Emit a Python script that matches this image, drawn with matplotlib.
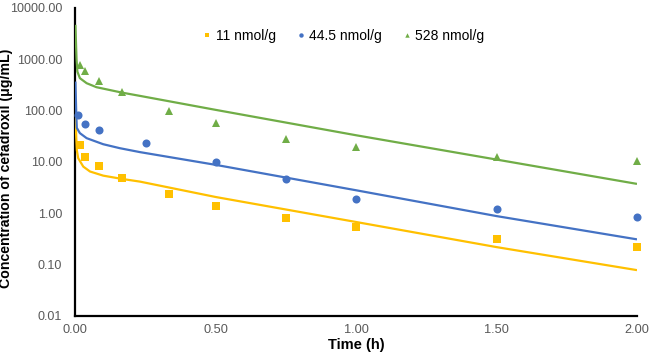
import numpy as np
import matplotlib
matplotlib.use("Agg")
import matplotlib.pyplot as plt
from matplotlib.ticker import FixedLocator, FormatStrFormatter

plt.rcParams['font.family'] = ['Liberation Sans', 'DejaVu Sans']

# observed concentrations (points)
t_low = [0.0167, 0.0333, 0.0833, 0.1667, 0.3333, 0.5, 0.75, 1.0, 1.5, 2.0]
c_low = [21.4, 12.7, 8.5, 4.8, 2.38, 1.39, 0.80, 0.53, 0.31, 0.224]

t_mid = [0.01, 0.0333, 0.0833, 0.25, 0.5, 0.75, 1.0, 1.5, 2.0]
c_mid = [82.4, 55.0, 42.0, 23.1, 9.87, 4.6, 1.90, 1.20, 0.86]

t_high = [0.0167, 0.0333, 0.0833, 0.1667, 0.3333, 0.5, 0.75, 1.0, 1.5, 2.0]
c_high = [776, 601, 379, 231, 100, 56.8, 28.1, 19.3, 12.4, 10.5]

# model curves
tf_low = [0.0, 0.003, 0.005, 0.01, 0.028, 0.052, 0.099, 0.165, 0.23, 0.5, 1.0, 1.5, 2.0]
cf_low = [91.4, 30.0, 17.0, 11.8, 8.1, 6.5, 5.4, 4.67, 4.13, 2.07, 0.675, 0.219, 0.078]

tf_mid = [0.0, 0.003, 0.005, 0.016, 0.040, 0.099, 0.158, 0.23, 0.5, 1.0, 1.5, 2.0]
cf_mid = [367, 90.0, 46.0, 36.3, 29.0, 22.1, 18.5, 15.5, 8.75, 2.8, 0.88, 0.31]

tf_high = [0.0, 0.004, 0.007, 0.016, 0.040, 0.075, 0.165, 0.23, 0.5, 1.0, 1.5, 2.0]
cf_high = [4670, 1000, 574, 427, 341, 285, 224, 193, 103, 33.0, 11.1, 3.73]

labels = ['11 nmol/g', '44.5 nmol/g', '528 nmol/g']
colors = ['#FFC000', '#4472C4', '#70AD47']
markers = ['s', 'o', '^']

x_ticks = [0.0, 0.5, 1.0, 1.5, 2.0]
y_ticks = [0.01, 0.1, 1, 10, 100, 1000, 10000]

fig = plt.figure(figsize=(6.5, 3.57), dpi=100)
ax = fig.add_axes([0.116, 0.115, 0.864, 0.863])

pts = [(t_low, c_low), (t_mid, c_mid), (t_high, c_high)]
fits = [(tf_low, cf_low), (tf_mid, cf_mid), (tf_high, cf_high)]

for (t, c), (tf, cf), lab, col, mk in zip(pts, fits, labels, colors, markers):
    ax.plot(tf, cf, color=col, lw=1.6, zorder=3, solid_capstyle='butt')
    ax.plot(t, c, linestyle='none', marker=mk, color=col, markersize=5.8,
            markeredgewidth=0, label=lab, zorder=4, clip_on=False)

ax.set_yscale('log')
ax.set_xlim(0, 2.0)
ax.set_ylim(0.01, 10000)
ax.xaxis.set_major_locator(FixedLocator(x_ticks))
ax.yaxis.set_major_locator(FixedLocator(y_ticks))
ax.yaxis.set_minor_locator(FixedLocator([]))
ax.xaxis.set_major_formatter(FormatStrFormatter('%.2f'))
ax.yaxis.set_major_formatter(FormatStrFormatter('%.2f'))
ax.tick_params(axis='x', length=0, labelsize=9.2, labelcolor='#595959', pad=6)
ax.tick_params(axis='y', length=0, labelsize=9.0, labelcolor='#595959', pad=9.5)

for side in ['top', 'right']:
    ax.spines[side].set_visible(False)
for side in ['left', 'bottom']:
    ax.spines[side].set_linewidth(1.6)
    ax.spines[side].set_color('black')

ax.set_xlabel('Time (h)', fontsize=10.5, fontweight='bold', labelpad=1)
ax.set_ylabel('Concentration of cefadroxil (\u03bcg/mL)', fontsize=10.2,
              fontweight='bold')
ax.yaxis.set_label_coords(-0.112, 0.48)

ax.legend(loc='center', bbox_to_anchor=(0.478, 0.909), ncol=3, frameon=False,
          fontsize=10, markerscale=0.55, handlelength=0.6, handletextpad=0.3,
          columnspacing=1.5)

fig.savefig('out.png', dpi=100)
